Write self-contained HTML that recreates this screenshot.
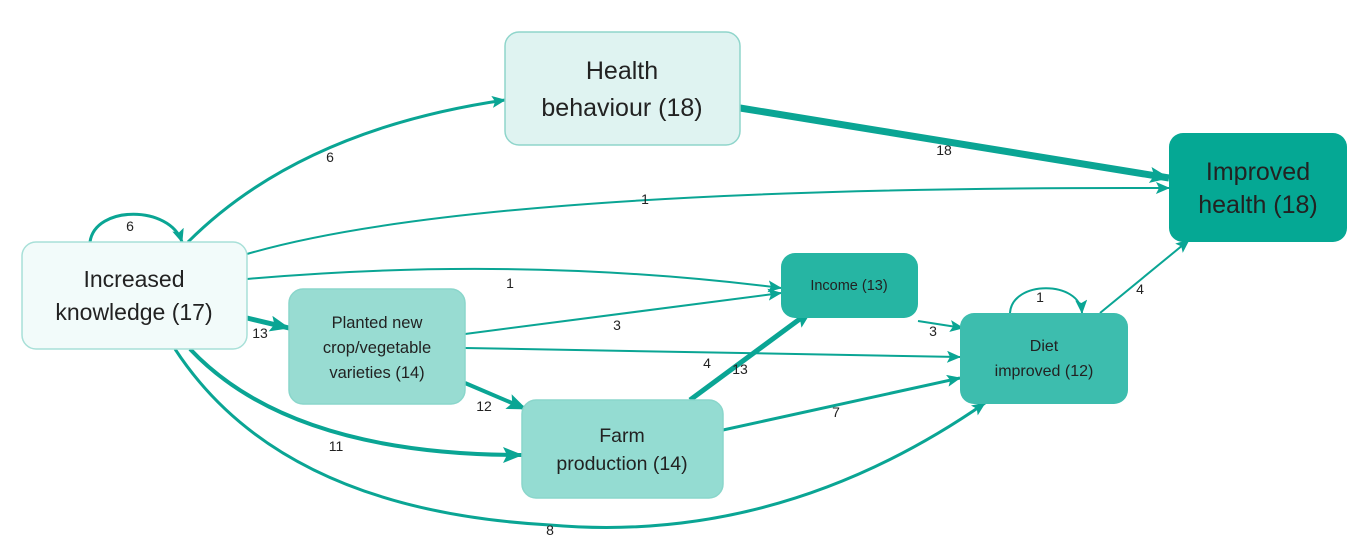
<!DOCTYPE html>
<html><head><meta charset="utf-8"><style>
html,body{margin:0;padding:0;background:#fff;width:1366px;height:539px;overflow:hidden}
text{font-family:"Liberation Sans",sans-serif;fill:#222}
</style></head><body>
<svg width="1366" height="539" viewBox="0 0 1366 539" xmlns="http://www.w3.org/2000/svg">
<defs>
<marker id="a" markerUnits="userSpaceOnUse" markerWidth="14" markerHeight="12" refX="13" refY="6" orient="auto"><path d="M0,0 L14,6 L0,12 L3,6 z" fill="#0aa594"/></marker>
<marker id="b" markerUnits="userSpaceOnUse" markerWidth="20" markerHeight="16" refX="19" refY="8" orient="auto"><path d="M0,0 L20,8 L0,16 L4,8 z" fill="#0aa594"/></marker>
</defs>
<g fill="none" stroke="#0aa594">
<path d="M188,242 Q300,130 505,100" stroke-width="3" marker-end="url(#a)"/>
<path d="M740,108 L1169,178" stroke-width="7" marker-end="url(#b)"/>
<path d="M247,254 Q480,186 1169,188" stroke-width="2" marker-end="url(#a)"/>
<path d="M247,279 Q520,255 781,288" stroke-width="2" marker-end="url(#a)"/>
<path d="M247,318 L289,328" stroke-width="5" marker-end="url(#b)"/>
<path d="M190,349 Q290,455 522,455" stroke-width="4" marker-end="url(#b)"/>
<path d="M175,349 Q280,510 550,525 Q780,545 985,403" stroke-width="3" marker-end="url(#a)"/>
<path d="M90,242 C95,205 170,205 182,242" stroke-width="3" marker-end="url(#a)"/>
<path d="M465,334 L781,293" stroke-width="2" marker-end="url(#a)"/>
<path d="M465,348 L960,357" stroke-width="2" marker-end="url(#a)"/>
<path d="M465,383 L526,409" stroke-width="4" marker-end="url(#b)"/>
<path d="M690,400 L812,310" stroke-width="5" marker-end="url(#b)"/>
<path d="M723,430 L960,378" stroke-width="3" marker-end="url(#a)"/>
<path d="M918,321 L963,328" stroke-width="2" marker-end="url(#a)"/>
<path d="M1010,313 C1012,280 1080,280 1082,313" stroke-width="2" marker-end="url(#a)"/>
<path d="M1100,313 L1189,240" stroke-width="2" marker-end="url(#a)"/>
</g>
<rect x="22" y="242" width="225" height="107" rx="14" fill="#f2fbfa" stroke="#a8e0d8" stroke-width="1.5"/>
<rect x="505" y="32" width="235" height="113" rx="14" fill="#dff3f1" stroke="#8fd5cb" stroke-width="1.5"/>
<rect x="1169" y="133" width="178" height="109" rx="14" fill="#05a894"/>
<rect x="289" y="289" width="176" height="115" rx="14" fill="#98dcd2" stroke="#8ad6cb" stroke-width="1.5"/>
<rect x="781" y="253" width="137" height="65" rx="14" fill="#26b5a3"/>
<rect x="960" y="313" width="168" height="91" rx="14" fill="#3dbdae"/>
<rect x="522" y="400" width="201" height="98" rx="14" fill="#94dcd2" stroke="#8ad6cb" stroke-width="1.5"/>
<g text-anchor="middle">
<text x="134" y="287" font-size="23">Increased</text>
<text x="134" y="320" font-size="23">knowledge (17)</text>
<text x="622" y="79" font-size="25">Health</text>
<text x="622" y="116" font-size="25">behaviour (18)</text>
<text x="1258" y="180" font-size="25">Improved</text>
<text x="1258" y="213" font-size="25">health (18)</text>
<text x="377" y="328" font-size="16.5">Planted new</text>
<text x="377" y="353" font-size="16.5">crop/vegetable</text>
<text x="377" y="378" font-size="16.5">varieties (14)</text>
<text x="849" y="290" font-size="14.5">Income (13)</text>
<text x="1044" y="351" font-size="16">Diet</text>
<text x="1044" y="376" font-size="16">improved (12)</text>
<text x="622" y="442" font-size="19.5">Farm</text>
<text x="622" y="470" font-size="19.5">production (14)</text>
<g font-size="14">
<text x="330" y="162">6</text>
<text x="944" y="155">18</text>
<text x="645" y="204">1</text>
<text x="510" y="288">1</text>
<text x="260" y="338">13</text>
<text x="336" y="451">11</text>
<text x="550" y="535">8</text>
<text x="130" y="231">6</text>
<text x="617" y="330">3</text>
<text x="707" y="368">4</text>
<text x="484" y="411">12</text>
<text x="740" y="374">13</text>
<text x="836" y="417">7</text>
<text x="933" y="336">3</text>
<text x="1040" y="302">1</text>
<text x="1140" y="294">4</text>
</g>
</g>
</svg>
</body></html>
